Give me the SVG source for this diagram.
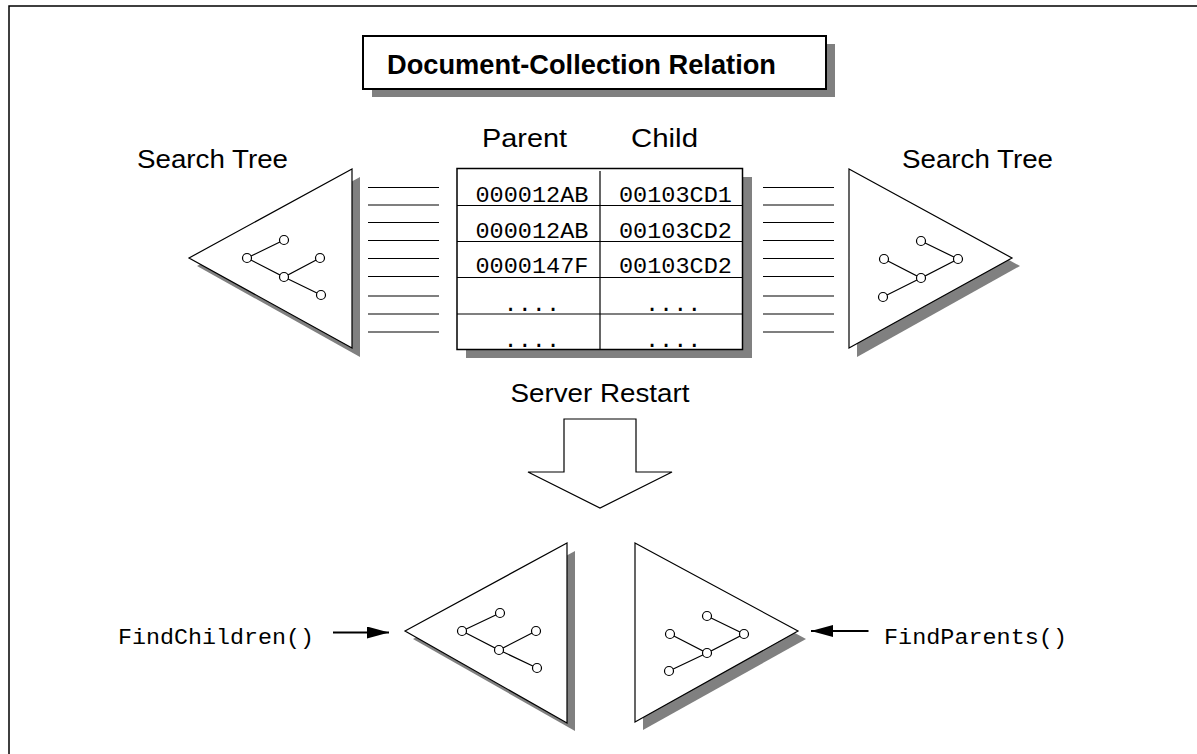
<svg xmlns="http://www.w3.org/2000/svg" width="1197" height="754" viewBox="0 0 1197 754">
<style>
.sans{font-family:"Liberation Sans",Arial,sans-serif;fill:#000}
.mono{font-family:"Liberation Mono","Courier New",monospace;fill:#000;font-size:22px}
.shadow{fill:#808080;stroke:none}
.tri{fill:#fff;stroke:#000;stroke-width:1.2}
.edge{stroke:#000;stroke-width:1.2;fill:none}
.nd{fill:#fff;stroke:#000;stroke-width:1.2}
.hl{stroke:#000;stroke-width:1.2}
.grid{stroke:#000;stroke-width:1.2;fill:none}
</style>
<defs>
<marker id="ah" markerUnits="userSpaceOnUse" markerWidth="24" markerHeight="14" refX="22" refY="6" orient="auto">
<path d="M0,0 L22,6 L0,12 z" fill="#000"/>
</marker>
</defs>
<rect width="1197" height="754" fill="#fff"/>
<path d="M9,754 V6 H1197" fill="none" stroke="#000" stroke-width="1.5"/>

<g id="title">
<rect class="shadow" x="372" y="44" width="463" height="53"/>
<rect x="363" y="36" width="463" height="53" fill="#fff" stroke="#000" stroke-width="2"/>
<text class="sans" x="387" y="74" font-size="28" font-weight="bold" textLength="389" lengthAdjust="spacingAndGlyphs">Document-Collection Relation</text>
</g>

<g id="left-tree">
<text class="sans" x="137" y="168" font-size="25" textLength="151" lengthAdjust="spacingAndGlyphs">Search Tree</text>
<polygon class="shadow" points="197,266 360,177 360,357"/>
<polygon class="tri" points="189,258 352,169 352,348"/>
<path class="edge" d="M247,258 L284,240 M247,258 L284,277 L320,258 M284,277 L321,295"/>
<circle class="nd" cx="247" cy="258" r="4.5"/>
<circle class="nd" cx="284" cy="240" r="4.5"/>
<circle class="nd" cx="284" cy="277" r="4.5"/>
<circle class="nd" cx="320" cy="258" r="4.5"/>
<circle class="nd" cx="321" cy="295" r="4.5"/>
</g>

<g id="relation-table">
<text class="sans" x="482" y="147" font-size="25" textLength="85" lengthAdjust="spacingAndGlyphs">Parent</text>
<text class="sans" x="631" y="147" font-size="25" textLength="67" lengthAdjust="spacingAndGlyphs">Child</text>
<rect class="shadow" x="466" y="177" width="286" height="181"/>
<rect x="457" y="168.5" width="285.5" height="181" fill="#fff" stroke="#000" stroke-width="1.5"/>
<path class="grid" d="M457,205.5 H742.5 M457,241.5 H742.5 M457,277.5 H742.5 M457,314 H742.5 M600,171 V349.5"/>
<text class="mono" x="475.5" y="202" textLength="113" lengthAdjust="spacingAndGlyphs">000012AB</text>
<text class="mono" x="619" y="202" textLength="113" lengthAdjust="spacingAndGlyphs">00103CD1</text>
<text class="mono" x="475.5" y="237.5" textLength="113" lengthAdjust="spacingAndGlyphs">000012AB</text>
<text class="mono" x="619" y="237.5" textLength="113" lengthAdjust="spacingAndGlyphs">00103CD2</text>
<text class="mono" x="475.5" y="273" textLength="113" lengthAdjust="spacingAndGlyphs">0000147F</text>
<text class="mono" x="619" y="273" textLength="113" lengthAdjust="spacingAndGlyphs">00103CD2</text>
<text class="mono" x="503.6" y="311" textLength="56.4" lengthAdjust="spacingAndGlyphs">....</text>
<text class="mono" x="645" y="311" textLength="56.4" lengthAdjust="spacingAndGlyphs">....</text>
<text class="mono" x="503.6" y="347" textLength="56.4" lengthAdjust="spacingAndGlyphs">....</text>
<text class="mono" x="645" y="347" textLength="56.4" lengthAdjust="spacingAndGlyphs">....</text>
</g>

<g id="right-tree">
<text class="sans" x="902" y="168" font-size="25" textLength="151" lengthAdjust="spacingAndGlyphs">Search Tree</text>
<polygon class="shadow" points="857,177 1020,266 857,357"/>
<polygon class="tri" points="849,169 1012,258 849,348"/>
<path class="edge" d="M884,259 L921,278 L958,259 L921,241 M921,278 L883,297"/>
<circle class="nd" cx="884" cy="259" r="4.5"/>
<circle class="nd" cx="921" cy="241" r="4.5"/>
<circle class="nd" cx="921" cy="278" r="4.5"/>
<circle class="nd" cx="958" cy="259" r="4.5"/>
<circle class="nd" cx="883" cy="297" r="4.5"/>
</g>

<g id="restart">
<text class="sans" x="510.5" y="402" font-size="25" textLength="179" lengthAdjust="spacingAndGlyphs">Server Restart</text>
<polygon points="564,419 636,419 636,472 672,472 600,508 528,472 564,472" fill="#fff" stroke="#000" stroke-width="1.2"/>
</g>

<g id="children-tree">
<text class="mono" x="118" y="643.5" textLength="196" lengthAdjust="spacingAndGlyphs">FindChildren()</text>
<polygon class="shadow" points="413,639 575,551 575,731"/>
<polygon class="tri" points="405,631 567,543 567,723"/>
<path class="edge" d="M462,631 L500,613 M462,631 L499,650 L536,631 M499,650 L537,668"/>
<circle class="nd" cx="462" cy="631" r="4.5"/>
<circle class="nd" cx="500" cy="613" r="4.5"/>
<circle class="nd" cx="499" cy="650" r="4.5"/>
<circle class="nd" cx="536" cy="631" r="4.5"/>
<circle class="nd" cx="537" cy="668" r="4.5"/>
</g>

<g id="parents-tree">
<text class="mono" x="884" y="643.5" textLength="183" lengthAdjust="spacingAndGlyphs">FindParents()</text>
<polygon class="shadow" points="643,551 806,639 643,730"/>
<polygon class="tri" points="635,543 798,631 635,722"/>
<path class="edge" d="M670,634 L707,653 L744,634 L707,616 M707,653 L669,671"/>
<circle class="nd" cx="670" cy="634" r="4.5"/>
<circle class="nd" cx="707" cy="616" r="4.5"/>
<circle class="nd" cx="707" cy="653" r="4.5"/>
<circle class="nd" cx="744" cy="634" r="4.5"/>
<circle class="nd" cx="669" cy="671" r="4.5"/>
</g>

<g id="connectors">
<path class="hl" d="M368,187.5 H439 M368,205 H439 M368,222.5 H439 M368,240.5 H439 M368,258.5 H439 M368,276.5 H439 M368,296 H439 M368,314 H439 M368,332 H439"/>
<path class="hl" d="M763,187.5 H834 M763,205 H834 M763,222.5 H834 M763,240.5 H834 M763,258.5 H834 M763,276.5 H834 M763,296 H834 M763,314 H834 M763,332 H834"/>
<line x1="333" y1="632.5" x2="389" y2="632.5" stroke="#000" stroke-width="2.2" marker-end="url(#ah)"/>
<line x1="868.5" y1="631" x2="811" y2="631" stroke="#000" stroke-width="2.2" marker-end="url(#ah)"/>
</g>
</svg>
